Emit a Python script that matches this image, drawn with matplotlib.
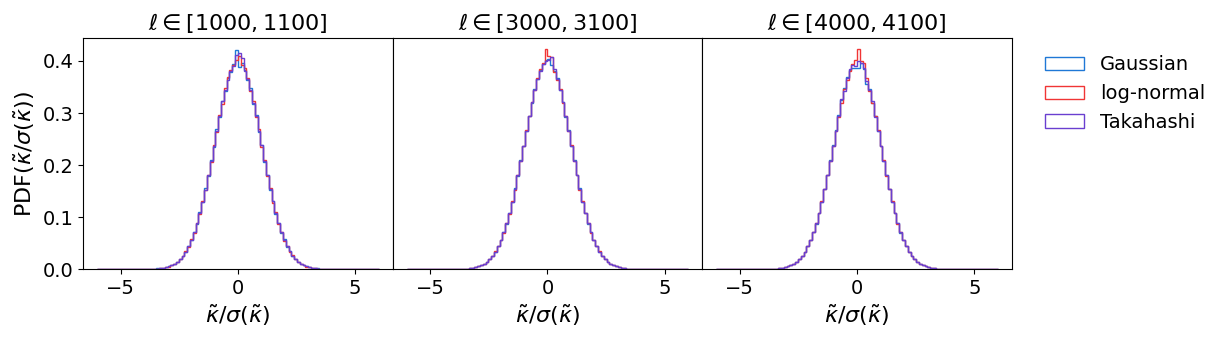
import numpy as np
import matplotlib
matplotlib.use("Agg")
import matplotlib.pyplot as plt

# ---------------- data ----------------
bin_edges = np.linspace(-6, 6, 101)   # 100 bins of width 0.12
titles = [r"$\ell \in [1000, 1100]$", r"$\ell \in [3000, 3100]$", r"$\ell \in [4000, 4100]$"]
series_names = ["Gaussian", "log-normal", "Takahashi"]
zeros16 = [0.0] * 16

# panel 1 (ell 1000-1100)
g1_left = [0.0001,0.0002,0.0004,0.0005,0.0008,0.0013,0.0016,0.0026,0.0036,0.0055,0.0072,0.0106,0.0139,0.0197,0.0262,0.0331,0.0447,0.0551,0.0722,0.0869,0.1091,0.1282,0.1558,0.1782,0.2101,0.2352,0.2685,0.2921,0.3236,0.3421,0.3671,0.3795,0.3951,0.4215]
g1_right = [0.3880,0.3957,0.3829,0.3631,0.3478,0.3176,0.2962,0.2632,0.2391,0.2061,0.1818,0.1521,0.1312,0.1058,0.0891,0.0697,0.0571,0.0432,0.0345,0.0254,0.0197,0.0139,0.0106,0.0073,0.0055,0.0035,0.0026,0.0016,0.0013,0.0007,0.0005,0.0003,0.0002,0.0001]
l1_left = [0.0002,0.0002,0.0003,0.0006,0.0009,0.0011,0.0018,0.0024,0.0039,0.0051,0.0076,0.0101,0.0145,0.0190,0.0255,0.0345,0.0432,0.0570,0.0701,0.0890,0.1060,0.1310,0.1520,0.1800,0.2060,0.2380,0.2640,0.2960,0.3180,0.3480,0.3700,0.3830,0.3920,0.4010]
l1_right = [0.4100,0.3920,0.3860,0.3680,0.3420,0.3230,0.2920,0.2690,0.2350,0.2100,0.1790,0.1560,0.1280,0.1090,0.0870,0.0720,0.0550,0.0450,0.0330,0.0265,0.0190,0.0147,0.0100,0.0078,0.0051,0.0039,0.0024,0.0018,0.0011,0.0009,0.0005,0.0004,0.0002,0.0002]
t1_left = [0.0001,0.0003,0.0003,0.0005,0.0008,0.0012,0.0017,0.0025,0.0037,0.0053,0.0074,0.0103,0.0143,0.0193,0.0258,0.0338,0.0440,0.0562,0.0715,0.0878,0.1074,0.1295,0.1530,0.1804,0.2083,0.2360,0.2661,0.2943,0.3230,0.3448,0.3640,0.3814,0.3910,0.4120]
t1_right = [0.4150,0.4050,0.3800,0.3660,0.3440,0.3200,0.2950,0.2650,0.2380,0.2080,0.1800,0.1540,0.1300,0.1070,0.0880,0.0705,0.0565,0.0440,0.0340,0.0258,0.0192,0.0143,0.0105,0.0075,0.0052,0.0037,0.0025,0.0017,0.0012,0.0008,0.0005,0.0003,0.0002,0.0001]

# panel 2 (ell 3000-3100)
g2_left = [0.0001,0.0002,0.0003,0.0005,0.0008,0.0012,0.0018,0.0024,0.0038,0.0052,0.0076,0.0102,0.0146,0.0191,0.0262,0.0335,0.0446,0.0558,0.0712,0.0870,0.1082,0.1290,0.1552,0.1798,0.2092,0.2375,0.2650,0.2950,0.3200,0.3460,0.3650,0.3830,0.3940,0.4010]
g2_right = [0.4040,0.3930,0.3800,0.3670,0.3440,0.3220,0.2930,0.2670,0.2360,0.2090,0.1800,0.1550,0.1290,0.1080,0.0875,0.0710,0.0558,0.0442,0.0338,0.0260,0.0193,0.0144,0.0104,0.0076,0.0053,0.0037,0.0025,0.0017,0.0012,0.0008,0.0005,0.0003,0.0002,0.0001]
l2_left = [0.0002,0.0002,0.0004,0.0005,0.0009,0.0012,0.0017,0.0026,0.0036,0.0054,0.0073,0.0106,0.0141,0.0195,0.0255,0.0340,0.0437,0.0565,0.0700,0.0885,0.1065,0.1300,0.1530,0.1810,0.2075,0.2365,0.2670,0.2935,0.3220,0.3440,0.3670,0.3840,0.3960,0.4230]
l2_right = [0.4100,0.4080,0.3780,0.3640,0.3460,0.3190,0.2950,0.2650,0.2380,0.2070,0.1810,0.1530,0.1300,0.1070,0.0885,0.0700,0.0565,0.0437,0.0342,0.0255,0.0196,0.0141,0.0106,0.0073,0.0054,0.0036,0.0026,0.0017,0.0012,0.0009,0.0005,0.0004,0.0002,0.0002]
t2_left = [0.0001,0.0002,0.0004,0.0005,0.0008,0.0012,0.0017,0.0025,0.0037,0.0053,0.0074,0.0103,0.0143,0.0193,0.0258,0.0338,0.0440,0.0562,0.0707,0.0878,0.1074,0.1295,0.1539,0.1804,0.2083,0.2371,0.2661,0.2943,0.3209,0.3448,0.3653,0.3814,0.3950,0.4000]
t2_right = [0.4020,0.4080,0.3840,0.3650,0.3450,0.3210,0.2940,0.2660,0.2370,0.2080,0.1800,0.1540,0.1295,0.1074,0.0878,0.0707,0.0562,0.0440,0.0338,0.0258,0.0193,0.0143,0.0103,0.0074,0.0053,0.0037,0.0025,0.0017,0.0012,0.0008,0.0005,0.0003,0.0002,0.0001]

# panel 3 (ell 4000-4100)
g3_left = [0.0001,0.0002,0.0003,0.0005,0.0008,0.0012,0.0017,0.0025,0.0036,0.0054,0.0073,0.0104,0.0142,0.0194,0.0257,0.0339,0.0441,0.0560,0.0710,0.0876,0.1075,0.1290,0.1545,0.1800,0.2090,0.2380,0.2680,0.2960,0.3250,0.3480,0.3690,0.3830,0.3870,0.3870]
g3_right = [0.3860,0.3960,0.3850,0.3560,0.3470,0.3200,0.2950,0.2650,0.2370,0.2080,0.1800,0.1540,0.1290,0.1070,0.0880,0.0700,0.0565,0.0440,0.0338,0.0258,0.0193,0.0143,0.0103,0.0074,0.0053,0.0037,0.0025,0.0017,0.0012,0.0008,0.0005,0.0003,0.0002,0.0001]
l3_left = [0.0002,0.0002,0.0004,0.0005,0.0009,0.0011,0.0018,0.0024,0.0038,0.0052,0.0075,0.0101,0.0146,0.0190,0.0262,0.0335,0.0442,0.0558,0.0705,0.0880,0.1070,0.1300,0.1535,0.1810,0.2080,0.2360,0.2650,0.2930,0.3190,0.3460,0.3640,0.3800,0.3950,0.4010]
l3_right = [0.4230,0.4000,0.3960,0.3670,0.3430,0.3190,0.2940,0.2670,0.2360,0.2090,0.1790,0.1545,0.1300,0.1070,0.0875,0.0712,0.0555,0.0445,0.0335,0.0262,0.0190,0.0146,0.0101,0.0075,0.0052,0.0038,0.0024,0.0018,0.0011,0.0009,0.0005,0.0004,0.0002,0.0002]
t3_left = [0.0001,0.0002,0.0004,0.0005,0.0008,0.0012,0.0017,0.0025,0.0037,0.0053,0.0074,0.0103,0.0143,0.0193,0.0258,0.0338,0.0440,0.0562,0.0707,0.0878,0.1074,0.1295,0.1539,0.1804,0.2083,0.2371,0.2661,0.2943,0.3270,0.3420,0.3680,0.3840,0.3930,0.3900]
t3_right = [0.4000,0.3960,0.3870,0.3620,0.3440,0.3230,0.2920,0.2660,0.2370,0.2080,0.1800,0.1540,0.1295,0.1074,0.0878,0.0707,0.0562,0.0440,0.0338,0.0258,0.0193,0.0143,0.0103,0.0074,0.0053,0.0037,0.0025,0.0017,0.0012,0.0008,0.0005,0.0003,0.0002,0.0001]

panels = [
    [(g1_left, g1_right), (l1_left, l1_right), (t1_left, t1_right)],
    [(g2_left, g2_right), (l2_left, l2_right), (t2_left, t2_right)],
    [(g3_left, g3_right), (l3_left, l3_right), (t3_left, t3_right)],
]

colors = ["#1f78d6", "#f03535", "#6a3fd0"]

# ---------------- plot ----------------
fig, axes = plt.subplots(1, 3, figsize=(12.22, 3.39), dpi=100, sharey=True)
fig.subplots_adjust(left=0.068, right=0.828, top=0.888, bottom=0.206, wspace=0)
centers = 0.5 * (bin_edges[:-1] + bin_edges[1:])

for i, ax in enumerate(axes):
    for (left, right), name, c in zip(panels[i], series_names, colors):
        # left half ordered from |x|=4.02 down to 0.06; pad with zero tails
        heights = np.array(zeros16 + list(left) + list(right) + zeros16)
        ax.hist(centers, bins=bin_edges, weights=heights, histtype="step",
                color=c, lw=1.0, label=name)
    ax.set_title(titles[i], fontsize=16)
    ax.set_xlabel(r"$\tilde{\kappa}/\sigma(\tilde{\kappa})$", fontsize=16)
    ax.set_xticks([-5, 0, 5])
    ax.tick_params(labelsize=14)
    if i > 0:
        ax.tick_params(left=False)

axes[0].set_ylabel(r"PDF$(\tilde{\kappa}/\sigma(\tilde{\kappa}))$", fontsize=16)
axes[0].set_yticks([0.0, 0.1, 0.2, 0.3, 0.4])
axes[2].legend(loc="upper left", bbox_to_anchor=(1.052, 1.0), frameon=False, fontsize=14)

fig.savefig("out.png", dpi=100)
